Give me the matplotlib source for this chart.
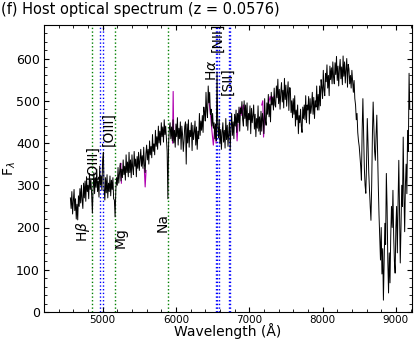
import numpy as np
import matplotlib
matplotlib.use("Agg")
import matplotlib.pyplot as plt
from matplotlib.ticker import MultipleLocator

# ---- data ----
wavelength = np.arange(4560, 9200, 10)
flux = [
    270, 245, 285, 232, 262, 290, 240, 268, 220, 255, 218, 275, 250, 292, 258, 300, 265, 245, 305, 270,
    310, 262, 320, 285, 300, 268, 328, 290, 312, 278, 234, 292, 330, 280, 318, 295, 338, 285, 310, 272,
    345, 300, 322, 288, 360, 378, 290, 265, 318, 282, 325, 270, 305, 285, 322, 275, 312, 290, 318, 268,
    265, 225, 290, 318, 300, 342, 305, 328, 352, 310, 338, 318, 360, 325, 345, 312, 372, 330, 355, 320,
    378, 330, 360, 318, 372, 340, 325, 380, 345, 362, 320, 368, 340, 378, 335, 360, 385, 345, 370, 340,
    390, 348, 330, 375, 395, 360, 385, 350, 405, 372, 392, 365, 420, 380, 398, 372, 430, 392, 415, 385,
    440, 400, 428, 395, 448, 415, 438, 402, 455, 420, 440, 410, 380, 268, 400, 435, 448, 410, 438, 405,
    455, 400, 430, 390, 445, 415, 460, 395, 435, 410, 450, 385, 440, 420, 380, 405, 440, 450, 350, 445,
    400, 455, 390, 430, 415, 448, 382, 442, 408, 425, 452, 395, 438, 385, 428, 410, 470, 418, 452, 430,
    465, 425, 485, 470, 452, 520, 475, 460, 535, 495, 520, 468, 480, 440, 470, 435, 448, 410, 445, 405,
    568, 440, 412, 456, 398, 432, 385, 425, 448, 402, 430, 388, 458, 408, 442, 392, 424, 450, 382, 436,
    470, 418, 450, 410, 468, 440, 478, 425, 470, 448, 485, 428, 482, 470, 498, 455, 440, 500, 458, 490,
    440, 495, 430, 470, 455, 488, 422, 482, 448, 465, 490, 433, 468, 415, 458, 435, 488, 428, 462, 420,
    475, 428, 470, 452, 422, 505, 455, 442, 495, 468, 515, 462, 492, 450, 520, 490, 508, 478, 530, 490,
    485, 535, 507, 551, 493, 527, 480, 520, 543, 497, 525, 483, 553, 503, 537, 487, 519, 545, 477, 531,
    530, 472, 500, 460, 505, 468, 512, 440, 478, 455, 490, 422, 465, 448, 480, 440, 425, 485, 458, 490,
    455, 512, 448, 490, 478, 510, 445, 505, 470, 488, 520, 468, 508, 458, 500, 485, 535, 478, 515, 478,
    535, 488, 550, 532, 505, 572, 525, 512, 565, 545, 585, 530, 560, 512, 582, 550, 578, 540, 592, 555,
    540, 590, 562, 605, 548, 582, 535, 575, 598, 552, 580, 538, 606, 558, 592, 542, 574, 600, 532, 586,
    575, 540, 560, 530, 572, 545, 520, 548, 505, 490, 455, 470, 425, 405, 392, 370, 345, 312, 430, 505,
    420, 340, 300, 281, 350, 458, 400, 330, 290, 250, 217, 300, 420, 497, 440, 380, 359, 420, 466, 380,
    300, 230, 180, 123, 200, 90, 150, 28, 120, 210, 160, 328, 250, 120, 45, 140, 69, 180, 250, 200,
    288, 180, 120, 92, 200, 250, 140, 260, 359, 230, 116, 200, 300, 250, 414, 280, 190, 300, 350, 280,
    430, 380, 565, 480,
]

# masked (raw) spectrum pieces shown in magenta
mask_wave = [
    [5240, 5248, 5256],
    [5568, 5580, 5592],
    [5954, 5962, 5970],
    [6450, 6470, 6490, 6510, 6530, 6548],
    [6824, 6834, 6846],
    [6860, 6880, 6900, 6920, 6940],
    [7170, 7185, 7195, 7210],
    [7265, 7285, 7305, 7325],
]
mask_flux = [
    [345, 352, 305],
    [340, 296, 335],
    [400, 522, 410],
    [500, 470, 430, 395, 440, 400],
    [440, 405, 445],
    [470, 485, 465, 490, 470],
    [490, 500, 414, 470],
    [495, 510, 495, 510],
]

green_lines = [4861, 5175, 5893]
blue_lines = [4959, 5007, 6548, 6563, 6584, 6717, 6731]

label_text = ["H$\\beta$", "[OIII]", "[OIII]", "Mg", "Na", "H$\\alpha$", "[NII]", "[SII]"]
label_x = [4738, 4857, 5075, 5246, 5812, 6487, 6569, 6698]
label_y = [190, 355, 433, 177, 212, 572, 650, 547]

# ---- plot ----
fig = plt.figure(figsize=(4.15, 3.41), dpi=100)
ax = fig.add_axes([44 / 415, 29 / 341, 368 / 415, 287.3 / 341])

for lam in green_lines:
    ax.axvline(lam, color="green", ls=":", lw=1.0, zorder=1)
for lam in blue_lines:
    ax.axvline(lam, color="blue", ls=":", lw=1.0, zorder=1)

for w, f in zip(mask_wave, mask_flux):
    ax.plot(w, f, color="#b000b0", lw=0.8, zorder=2)
ax.plot(wavelength, flux, color="black", lw=0.7, zorder=3)

for t, x, y in zip(label_text, label_x, label_y):
    ax.text(x, y, t, rotation=90, ha="center", va="center", fontsize=10, zorder=4)

ax.set_xlim(4200, 9220)
ax.set_ylim(0, 680)
ax.xaxis.set_major_locator(MultipleLocator(1000))
ax.xaxis.set_minor_locator(MultipleLocator(200))
ax.yaxis.set_major_locator(MultipleLocator(100))
ax.yaxis.set_minor_locator(MultipleLocator(20))
ax.tick_params(which="both", direction="in", top=True, right=True)
ax.tick_params(axis="x", labelsize=7.5, pad=2)
ax.tick_params(axis="y", labelsize=9, pad=3)
ax.set_xlabel("Wavelength (\u00c5)", fontsize=10, va="top")
ax.xaxis.set_label_coords(0.5, -0.04)
ax.set_ylabel("F$_\\lambda$", fontsize=10)
ax.yaxis.set_label_coords(-0.072, 0.5)

fig.text(0.003, 0.995, "(f) Host optical spectrum (z = 0.0576)", fontsize=10.5,
         ha="left", va="top")

fig.savefig("out.png", dpi=100)
